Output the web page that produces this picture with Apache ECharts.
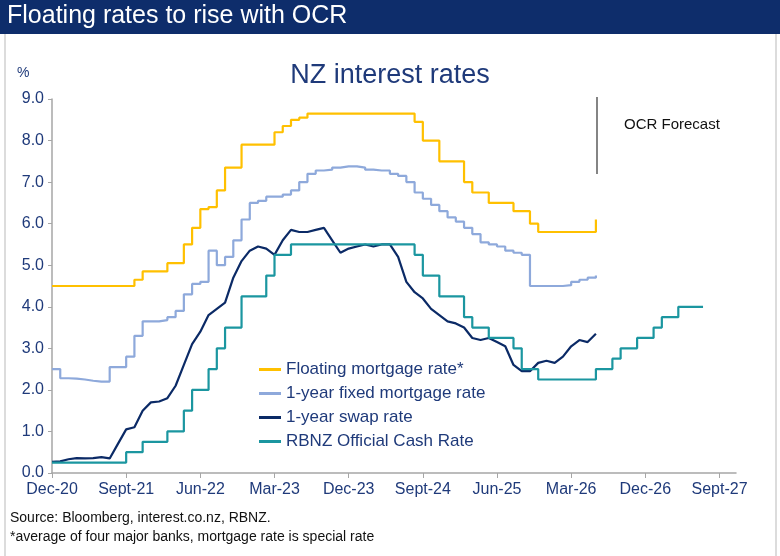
<!DOCTYPE html>
<html>
<head>
<meta charset="utf-8">
<script src="https://cdn.jsdelivr.net/npm/echarts@6/dist/echarts.min.js"></script>
<style>
  body { margin: 0; background: #fff; }
  #chart { width: 780px; height: 556px; }
</style>
</head>
<body>
<div id="chart"></div>
<script>
// months since Dec-20 (index 0), axis runs to index 83
var xTickLabels = ["Dec-20", "Sept-21", "Jun-22", "Mar-23", "Dec-23", "Sept-24", "Jun-25", "Mar-26", "Dec-26", "Sept-27"];

var floatingRate = [4.5, 4.5, 4.5, 4.5, 4.5, 4.5, 4.5, 4.5, 4.5, 4.5,
  4.65, 4.85, 4.85, 4.85, 5.05, 5.05, 5.5, 5.9, 6.35, 6.4,
  6.8, 7.35, 7.35, 7.9, 7.9, 7.9, 7.9, 8.2, 8.35, 8.5,
  8.55, 8.65, 8.65, 8.65, 8.65, 8.65, 8.65, 8.65, 8.65, 8.65,
  8.65, 8.65, 8.65, 8.65, 8.45, 8.0, 8.0, 7.5, 7.5, 7.5,
  7.0, 6.75, 6.75, 6.5, 6.5, 6.5, 6.3, 6.3, 6.0, 5.8,
  5.8, 5.8, 5.8, 5.8, 5.8, 5.8, 6.1];

var fixedRate = [2.5, 2.28, 2.27, 2.25, 2.22, 2.2, 2.2, 2.55, 2.55, 2.8,
  3.3, 3.65, 3.65, 3.68, 3.75, 3.9, 4.3, 4.55, 4.6, 5.35,
  5.0, 5.2, 5.6, 6.1, 6.5, 6.55, 6.65, 6.65, 6.7, 6.8,
  7.0, 7.2, 7.28, 7.3, 7.35, 7.38, 7.38, 7.35, 7.3, 7.28,
  7.28, 7.2, 7.15, 7.0, 6.75, 6.6, 6.45, 6.3, 6.15, 6.05,
  5.9, 5.75, 5.55, 5.5, 5.45, 5.35, 5.3, 5.25, 4.5, 4.5,
  4.5, 4.5, 4.52, 4.6, 4.65, 4.7, 4.75];

var swapRate = [0.27, 0.28, 0.33, 0.36, 0.35, 0.36, 0.38, 0.35, 0.7, 1.05,
  1.1, 1.5, 1.7, 1.72, 1.8, 2.1, 2.6, 3.1, 3.4, 3.8,
  3.95, 4.1, 4.7, 5.1, 5.35, 5.45, 5.4, 5.25, 5.6, 5.85,
  5.8, 5.8, 5.85, 5.9, 5.6, 5.3, 5.4, 5.45, 5.5, 5.45,
  5.5, 5.5, 5.2, 4.6, 4.35, 4.2, 3.95, 3.8, 3.65, 3.6,
  3.5, 3.25, 3.2, 3.25, 3.15, 3.05, 2.6, 2.45, 2.45, 2.65,
  2.7, 2.65, 2.8, 3.05, 3.2, 3.15, 3.35];

var ocrRate = [0.25, 0.25, 0.25, 0.25, 0.25, 0.25, 0.25, 0.25, 0.25, 0.5,
  0.5, 0.75, 0.75, 0.75, 1.0, 1.0, 1.5, 2.0, 2.0, 2.5,
  3.0, 3.5, 3.5, 4.25, 4.25, 4.25, 4.75, 5.25, 5.25, 5.5,
  5.5, 5.5, 5.5, 5.5, 5.5, 5.5, 5.5, 5.5, 5.5, 5.5,
  5.5, 5.5, 5.5, 5.5, 5.25, 4.75, 4.75, 4.25, 4.25, 4.25,
  3.75, 3.5, 3.5, 3.25, 3.25, 3.25, 3.0, 2.5, 2.5, 2.25,
  2.25, 2.25, 2.25, 2.25, 2.25, 2.25, 2.5, 2.5, 2.75, 3.0,
  3.0, 3.25, 3.25, 3.5, 3.75, 3.75, 4.0, 4.0, 4.0, 4.0];

var months = [];
for (var i = 0; i < 84; i++) months.push(i);

var navy = "#1F3A7A";
var font = "Liberation Sans, Arial, sans-serif";
var chart = echarts.init(document.getElementById("chart"));

function lineSeries(name, data, color, step) {
  return {
    name: name,
    type: "line",
    data: data,
    step: step,
    symbol: "none",
    lineStyle: { color: color, width: 2.2 },
    itemStyle: { color: color }
  };
}

chart.setOption({
  animation: false,
  textStyle: { fontFamily: font },
  title: [
    {
      text: "NZ interest rates",
      left: "center",
      top: 57,
      textStyle: { color: navy, fontSize: 27, fontWeight: "normal" }
    }
  ],
  grid: { left: 52, right: 44, top: 99, bottom: 83 },
  legend: {
    orient: "vertical",
    left: 254,
    top: 356,
    itemGap: 7,
    itemWidth: 22,
    itemHeight: 3,
    icon: "rect",
    textStyle: { color: navy, fontSize: 17 },
    data: ["Floating mortgage rate*", "1-year fixed mortgage rate", "1-year swap rate", "RBNZ Official Cash Rate"]
  },
  xAxis: {
    type: "category",
    data: months,
    boundaryGap: false,
    axisLine: { lineStyle: { color: "#A6A6A6", width: 1.5 } },
    axisTick: { interval: 8, lineStyle: { color: "#A6A6A6" }, length: 5 },
    axisLabel: {
      interval: 8,
      color: navy,
      fontSize: 16,
      margin: 9,
      formatter: function (v, idx) { return xTickLabels[idx / 9] || ""; }
    }
  },
  yAxis: {
    type: "value",
    min: 0,
    max: 9,
    interval: 1,
    axisLine: { show: true, lineStyle: { color: "#A6A6A6", width: 1.5 } },
    axisTick: { show: true, lineStyle: { color: "#A6A6A6" }, length: 4 },
    splitLine: { show: false },
    axisLabel: {
      color: navy,
      fontSize: 16,
      margin: 8,
      formatter: function (v) { return v.toFixed(1); }
    }
  },
  series: [
    lineSeries("Floating mortgage rate*", floatingRate, "#FFC000", "end"),
    lineSeries("1-year fixed mortgage rate", fixedRate, "#8EA9DB", "end"),
    lineSeries("1-year swap rate", swapRate, "#0B2A66", false),
    lineSeries("RBNZ Official Cash Rate", ocrRate, "#1B96A0", "end")
  ],
  graphic: [
    { type: "rect", shape: { x: 0, y: 0, width: 780, height: 34 }, style: { fill: "#0E2D6B" } },
    { type: "text", left: 7, top: 4, style: { text: "Floating rates to rise with OCR", fill: "#fff", font: "25px " + font } },
    { type: "line", shape: { x1: 5, y1: 34, x2: 5, y2: 556 }, style: { stroke: "#D0D0D0", lineWidth: 1.5 } },
    { type: "line", shape: { x1: 776, y1: 34, x2: 776, y2: 556 }, style: { stroke: "#D0D0D0", lineWidth: 1.5 } },
    { type: "text", left: 17, top: 66, style: { text: "%", fill: navy, font: "14px " + font } },
    { type: "line", shape: { x1: 597, y1: 97, x2: 597, y2: 174 }, style: { stroke: "#333", lineWidth: 1.2 } },
    { type: "text", left: 624, top: 117, style: { text: "OCR Forecast", fill: "#111", font: "15px " + font } },
    { type: "text", left: 10, top: 511, style: { text: "Source: Bloomberg, interest.co.nz, RBNZ.", fill: "#111", font: "14px " + font } },
    { type: "text", left: 10, top: 530, style: { text: "*average of four major banks, mortgage rate is special rate", fill: "#111", font: "14px " + font } }
  ]
});
</script>
</body>
</html>
